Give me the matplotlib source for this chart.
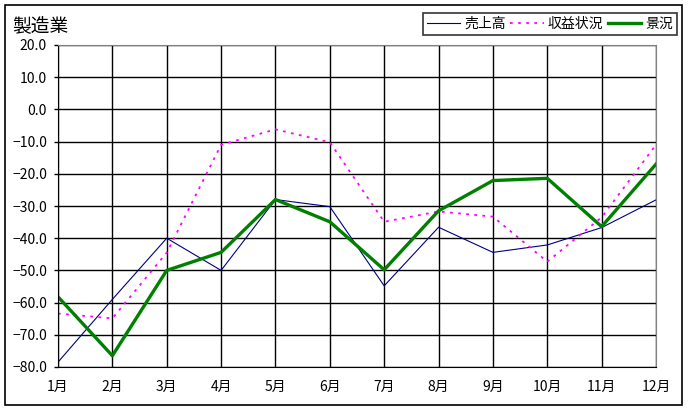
import matplotlib
matplotlib.use("Agg")
import matplotlib.pyplot as plt
from matplotlib.patches import Rectangle

plt.rcParams['font.family'] = ['Noto Sans CJK JP', 'DejaVu Sans']

months = ["1月", "2月", "3月", "4月", "5月", "6月", "7月", "8月", "9月", "10月", "11月", "12月"]

# 売上高 / 収益状況 / 景況
sales = [-78.5, -59.0, -40.0, -50.0, -28.0, -30.2, -54.8, -36.6, -44.4, -42.1, -36.7, -28.1]
profit = [-63.4, -64.9, -44.5, -11.0, -6.2, -10.2, -34.9, -31.7, -33.3, -47.3, -33.5, -11.0]
business = [-58.2, -76.5, -50.0, -44.4, -28.0, -34.9, -49.8, -31.5, -22.1, -21.4, -36.4, -17.0]

yticks = [20, 10, 0, -10, -20, -30, -40, -50, -60, -70, -80]

W, H = 689, 411
fig = plt.figure(figsize=(W / 100, H / 100), dpi=100)
ax = fig.add_axes([58 / W, 1 - 367 / H, (656 - 58) / W, (367 - 45) / H])

x = list(range(len(months)))
ax.plot(x, sales, color="#000080", lw=0.8, label="売上高")
ax.plot(x, profit, color="#ff00ff", lw=1.3, ls=(0, (1.5, 3)), label="収益状況")
ax.plot(x, business, color="#008000", lw=2.4, label="景況")

ax.set_xlim(0, 11)
ax.set_ylim(-80, 20)
ax.set_xticks(x)
ax.set_xticklabels(months, fontsize=10)
ax.set_yticks(yticks)
ax.set_yticklabels([f"{v:.1f}".replace("-", "\u2212") for v in yticks], fontsize=10)
ax.grid(True, color="black", lw=1)
ax.set_axisbelow(True)
ax.tick_params(axis="x", length=0, pad=9)
ax.tick_params(axis="y", length=3, width=1, pad=5)
for side in ["top", "right"]:
    ax.spines[side].set_color("#808080")
for side in ["left", "bottom"]:
    ax.spines[side].set_color("black")

fig.text(12 / W, 1 - 26 / H, "製造業", fontsize=13.5, va="center", ha="left")

leg = fig.legend(loc="upper right", bbox_to_anchor=(677 / W, 1 - 13 / H), ncol=3,
                 fontsize=10, frameon=True, fancybox=False, edgecolor="black",
                 handlelength=2.4, handletextpad=0.3, columnspacing=0.3,
                 borderpad=0.3, borderaxespad=0)
leg.get_frame().set_linewidth(1.2)

fig.patches.append(Rectangle((5 / W, 1 - 405 / H), 677 / W, 400 / H, transform=fig.transFigure,
                             fill=False, edgecolor="black", lw=1.2))

fig.savefig("out.png", dpi=100)
